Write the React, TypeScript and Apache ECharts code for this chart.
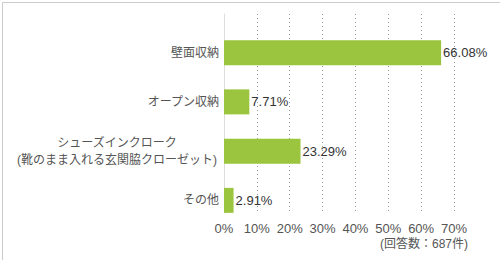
import React, { useEffect, useRef } from "react";
import * as echarts from "echarts";

const categories = [
  "壁面収納",
  "オープン収納",
  "シューズインクローク\n(靴のまま入れる玄関脇クローゼット)",
  "その他",
];
const values = [66.08, 7.71, 23.29, 2.91];
const xMin = 0;
const xMax = 70;
const xInterval = 10;
const noteText = "(回答数：687件)";

const FONT = "'Liberation Sans', 'Noto Sans CJK JP', sans-serif";

export default function App() {
  const ref = useRef<HTMLDivElement>(null);
  useEffect(() => {
    document.body.style.margin = "0";
    const chart = echarts.init(ref.current!, null, { renderer: "svg" });
    chart.setOption({
      animation: false,
      backgroundColor: "#fff",
      grid: [
        { left: 224, right: 46, top: 14, height: 199 },
        { left: 224, right: 46, top: 28, height: 197 },
      ],
      xAxis: [
        {
          gridIndex: 0,
          type: "value",
          min: xMin,
          max: xMax,
          interval: xInterval,
          axisLine: { show: false },
          axisTick: { show: false },
          axisLabel: {
            formatter: "{value}%",
            color: "#555",
            fontSize: 13,
            lineHeight: 14,
            fontFamily: FONT,
            margin: 8,
          },
          splitLine: {
            show: true,
            lineStyle: { color: "#999", type: [1, 3], width: 1 },
          },
        },
        {
          gridIndex: 1,
          type: "value",
          min: xMin,
          max: xMax,
          show: false,
        },
      ],
      yAxis: [
        {
          gridIndex: 0,
          type: "value",
          min: 0,
          max: 1,
          axisLine: { show: true, lineStyle: { color: "#dddddd", width: 1 } },
          axisTick: { show: false },
          axisLabel: { show: false },
          splitLine: { show: false },
        },
        {
          gridIndex: 1,
          type: "category",
          inverse: true,
          data: categories,
          axisLine: { show: false },
          axisTick: { show: false },
          axisLabel: {
            margin: 5,
            color: "#555",
            fontSize: 12,
            fontFamily: FONT,
            lineHeight: 17,
            formatter: (v: string) => {
              if (v.indexOf("\n") >= 0) {
                return v
                  .split("\n")
                  .map((s) => "{c|" + s + "}")
                  .join("\n");
              }
              return v;
            },
            rich: {
              c: {
                width: 204,
                align: "center",
                color: "#555",
                fontSize: 12,
                fontFamily: FONT,
                lineHeight: 17,
              },
            },
          },
        },
      ],
      series: [
        {
          type: "bar",
          xAxisIndex: 1,
          yAxisIndex: 1,
          data: values,
          barWidth: 25,
          itemStyle: { color: "#9bc53f" },
          label: {
            show: true,
            position: "right",
            distance: 2,
            color: "#333",
            fontSize: 13,
            fontFamily: FONT,
            formatter: (p: any) => Number(p.value).toFixed(2) + "%",
          },
        },
      ],
      graphic: [
        {
          type: "text",
          right: 32,
          top: 237,
          style: {
            text: noteText,
            fill: "#555",
            fontSize: 12,
            lineHeight: 13,
            fontFamily: FONT,
          },
        },
        {
          type: "rect",
          left: 0,
          top: 0,
          shape: { x: 0.5, y: 0.5, width: 499, height: 259 },
          style: { fill: "none", stroke: "#cccccc", lineWidth: 1 },
          silent: true,
          z: 100,
        },
      ],
    });
    return () => chart.dispose();
  }, []);
  return <div ref={ref} style={{ width: 500, height: 260 }} />;
}
